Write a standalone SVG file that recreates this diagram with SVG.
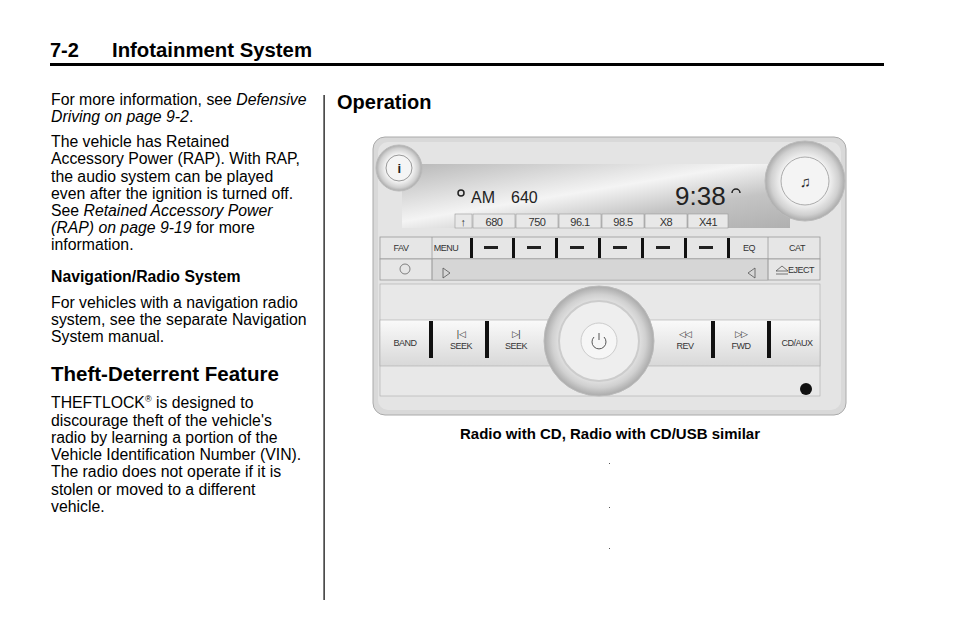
<svg xmlns="http://www.w3.org/2000/svg" width="954" height="638" viewBox="0 0 954 638">
<defs>
<style>
.t{font-family:"Liberation Sans",Arial,sans-serif;font-size:15.8px;fill:#000}
.i{font-style:italic}
.h{font-weight:bold}
.b{font-family:"Liberation Sans",Arial,sans-serif;font-size:9px;fill:#333;text-anchor:middle;letter-spacing:-0.5px}
.btn{fill:#e6e6e6;stroke:#999;stroke-width:0.8}
.sep{fill:#111}
</style>
<linearGradient id="disp" x1="0" y1="0" x2="1" y2="1"><stop offset="0" stop-color="#b8b8b8"/><stop offset="0.45" stop-color="#f4f4f4"/><stop offset="0.7" stop-color="#c4c4c4"/><stop offset="1" stop-color="#b0b0b0"/></linearGradient>
<radialGradient id="knob" cx="0.5" cy="0.5" r="0.5"><stop offset="0.6" stop-color="#f2f2f2"/><stop offset="0.85" stop-color="#d0d0d0"/><stop offset="1" stop-color="#aaa"/></radialGradient>
<linearGradient id="strip" x1="0" y1="0" x2="0" y2="1"><stop offset="0" stop-color="#fafafa"/><stop offset="1" stop-color="#d8d8d8"/></linearGradient>
</defs>
<rect width="954" height="638" fill="#fff"/>
<g id="header">
<text x="50" y="57" class="t h" style="font-size:20px">7-2</text>
<text x="112" y="57" class="t h" style="font-size:20px" textLength="200" lengthAdjust="spacingAndGlyphs">Infotainment System</text>
<rect x="50" y="63" width="834" height="3" fill="#000"/>
<rect x="323.5" y="95" width="1.2" height="505" fill="#000"/>
</g>
<g id="left">
<text class="t" x="51" y="105">For more information, see <tspan class="i">Defensive</tspan></text>
<text class="t i" x="51" y="122">Driving on page 9-2<tspan font-style="normal">.</tspan></text>
<text class="t" x="51" y="147">The vehicle has Retained</text>
<text class="t" x="51" y="164">Accessory Power (RAP). With RAP,</text>
<text class="t" x="51" y="182">the audio system can be played</text>
<text class="t" x="51" y="199">even after the ignition is turned off.</text>
<text class="t" x="51" y="216">See <tspan class="i">Retained Accessory Power</tspan></text>
<text class="t" x="51" y="233"><tspan class="i">(RAP) on page 9-19</tspan> for more</text>
<text class="t" x="51" y="250">information.</text>
<text class="t h" x="51" y="282">Navigation/Radio System</text>
<text class="t" x="51" y="308">For vehicles with a navigation radio</text>
<text class="t" x="51" y="325">system, see the separate Navigation</text>
<text class="t" x="51" y="342">System manual.</text>
<text class="t h" x="51" y="381" style="font-size:20.5px">Theft-Deterrent Feature</text>
<text class="t" x="51" y="408">THEFTLOCK<tspan font-size="9" dy="-6">®</tspan><tspan dy="6"> is designed to</tspan></text>
<text class="t" x="51" y="426">discourage theft of the vehicle's</text>
<text class="t" x="51" y="443">radio by learning a portion of the</text>
<text class="t" x="51" y="460">Vehicle Identification Number (VIN).</text>
<text class="t" x="51" y="477">The radio does not operate if it is</text>
<text class="t" x="51" y="495">stolen or moved to a different</text>
<text class="t" x="51" y="512">vehicle.</text>
</g>
<g id="right">
<text class="t h" x="337" y="109" style="font-size:20px">Operation</text>
<text class="t h" x="610" y="439" text-anchor="middle" style="font-size:15px">Radio with CD, Radio with CD/USB similar</text>
</g>
<g id="radio">
<rect x="373" y="137" width="473" height="278" rx="12" fill="#d9d9d9" stroke="#aaa"/>
<rect x="378" y="142" width="463" height="268" rx="10" fill="#e4e4e4"/>
<rect x="402" y="164" width="388" height="64" fill="url(#disp)"/>
<circle cx="399" cy="168" r="23" fill="url(#knob)" stroke="#bbb"/>
<circle cx="399" cy="168" r="13" fill="#f5f5f5" stroke="#999"/>
<text x="399" y="173" class="b" style="font-size:13px;font-weight:bold;fill:#222">i</text>
<circle cx="805" cy="181" r="40" fill="url(#knob)" stroke="#bbb"/>
<circle cx="805" cy="181" r="24" fill="#f4f4f4" stroke="#aaa"/>
<text x="805" y="187" class="b" style="font-size:15px;fill:#222">♫</text>
<circle cx="461" cy="193" r="3" fill="none" stroke="#222" stroke-width="1.5"/>
<text x="471" y="203" style="font-family:'Liberation Sans',sans-serif;font-size:16px;fill:#222">AM</text>
<text x="511" y="203" style="font-family:'Liberation Sans',sans-serif;font-size:16px;fill:#222">640</text>
<text x="675" y="205" style="font-family:'Liberation Sans',sans-serif;font-size:26px;fill:#222">9:38</text>
<path d="M732 193 a4 4 0 0 1 8 0" fill="none" stroke="#222" stroke-width="1.5"/>
<g fill="#e8e8e8" stroke="#999" stroke-width="0.6">
<rect x="455" y="214" width="17" height="14"/><rect x="473" y="214" width="42" height="14"/><rect x="516" y="214" width="42" height="14"/><rect x="559" y="214" width="42" height="14"/><rect x="602" y="214" width="42" height="14"/><rect x="645" y="214" width="42" height="14"/><rect x="688" y="214" width="40" height="14"/>
</g>
<g class="b" style="font-size:11px">
<text x="463" y="226">↑</text><text x="494" y="226">680</text><text x="537" y="226">750</text><text x="580" y="226">96.1</text><text x="623" y="226">98.5</text><text x="666" y="226">X8</text><text x="708" y="226">X41</text>
</g>
<rect x="380" y="237" width="440" height="22" class="btn"/>
<rect x="380" y="259" width="440" height="21" class="btn" fill="#e0e0e0"/>
<rect x="432" y="259" width="336" height="21" fill="#d6d6d6" stroke="#aaa" stroke-width="0.6"/>
<line x1="432" y1="237" x2="432" y2="280" stroke="#999" stroke-width="0.8"/>
<line x1="768" y1="237" x2="768" y2="280" stroke="#999" stroke-width="0.8"/>
<g class="sep"><rect x="470" y="238" width="3" height="20"/><rect x="512" y="238" width="3" height="20"/><rect x="555" y="238" width="3" height="20"/><rect x="598" y="238" width="3" height="20"/><rect x="641" y="238" width="3" height="20"/><rect x="684" y="238" width="3" height="20"/><rect x="727" y="238" width="3" height="20"/></g>
<g fill="#222"><rect x="484" y="246" width="14" height="3"/><rect x="527" y="246" width="14" height="3"/><rect x="570" y="246" width="14" height="3"/><rect x="613" y="246" width="14" height="3"/><rect x="656" y="246" width="14" height="3"/><rect x="699" y="246" width="14" height="3"/></g>
<g class="b"><text x="401" y="251">FAV</text><text x="446" y="251">MENU</text><text x="749" y="251">EQ</text><text x="797" y="251">CAT</text><text x="801" y="273">EJECT</text></g>
<circle cx="405" cy="269" r="5" fill="none" stroke="#666" stroke-width="0.8"/>
<path d="M776 271 l6 -5 l6 5 z M776 274 h12" fill="none" stroke="#555" stroke-width="0.8"/>
<path d="M443 268 v10 M443 268 l7 5 l-7 5" fill="none" stroke="#555" stroke-width="0.8"/>
<path d="M755 268 v10 M755 268 l-7 5 l7 5" fill="none" stroke="#555" stroke-width="0.8"/>
<rect x="380" y="284" width="440" height="112" fill="#e8e8e8" stroke="#aaa" stroke-width="0.6"/>
<rect x="380" y="320" width="440" height="46" fill="url(#strip)" stroke="#aaa" stroke-width="0.6"/>
<g class="sep"><rect x="429" y="321" width="4" height="37"/><rect x="485" y="321" width="4" height="37"/><rect x="711" y="321" width="4" height="37"/><rect x="767" y="321" width="4" height="37"/></g>
<g class="b"><text x="405" y="346">BAND</text><text x="461" y="349">SEEK</text><text x="516" y="349">SEEK</text><text x="685" y="349">REV</text><text x="741" y="349">FWD</text><text x="797" y="346">CD/AUX</text>
<text x="461" y="337">|◁</text><text x="516" y="337">▷|</text><text x="685" y="337">◁◁</text><text x="741" y="337">▷▷</text></g>
<circle cx="599" cy="341" r="55" fill="url(#knob)" stroke="#bbb"/>
<circle cx="599" cy="341" r="40" fill="#eee" stroke="#ccc" stroke-width="2"/>
<circle cx="599" cy="341" r="18" fill="#f6f6f6" stroke="#ccc"/>
<path d="M594 337 a7 7 0 1 0 10 0 M599 333 v7" fill="none" stroke="#555" stroke-width="1"/>
<circle cx="806" cy="389" r="6" fill="#111"/>
</g>
<g id="marks" fill="#555"><rect x="609" y="463" width="1" height="1"/><rect x="609" y="507" width="1" height="1"/><rect x="609" y="548" width="1" height="1"/></g>
</svg>
